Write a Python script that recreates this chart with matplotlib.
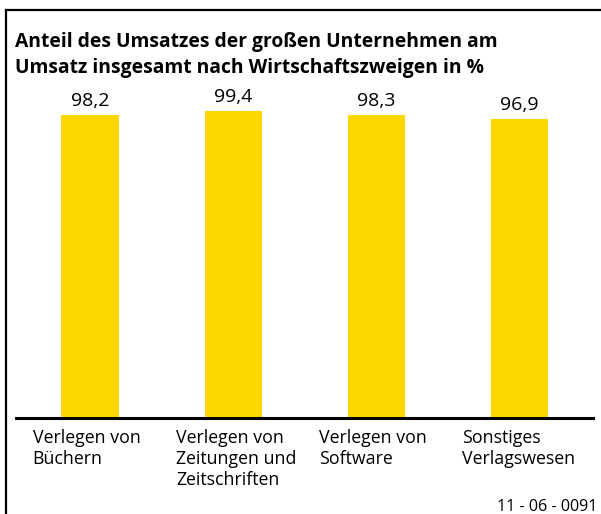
import matplotlib
matplotlib.use("Agg")
import matplotlib.pyplot as plt
from matplotlib.lines import Line2D

categories = ["Verlegen von\nBüchern", "Verlegen von\nZeitungen und\nZeitschriften",
              "Verlegen von\nSoftware", "Sonstiges\nVerlagswesen"]
values = [98.2, 99.4, 98.3, 96.9]
value_labels = ["98,2", "99,4", "98,3", "96,9"]

plt.rcParams["font.family"] = ["Open Sans", "DejaVu Sans"]

fig = plt.figure(figsize=(6.01, 5.14), dpi=100)
W, H = 601, 514

# frame: only left and top edges are visible in the crop
fig.lines.append(Line2D([6 / W, 6 / W], [0, 1 - 10 / H], transform=fig.transFigure,
                        color="black", linewidth=1.6))
fig.lines.append(Line2D([6 / W, 1], [1 - 10 / H, 1 - 10 / H], transform=fig.transFigure,
                        color="black", linewidth=1.6))

fig.text(15 / W, 1 - 73 / H, "Anteil des Umsatzes der großen Unternehmen am\n"
         "Umsatz insgesamt nach Wirtschaftszweigen in %",
         fontsize=13.9, fontweight="bold", va="baseline", ha="left",
         linespacing=1.43, multialignment="left")

ax = fig.add_axes([16 / W, (514 - 418) / H, (593 - 16) / W, 318 / H])
x = range(len(values))
ax.bar(x, values, width=0.4, color="#FFD700")
for i, (v, lab) in enumerate(zip(values, value_labels)):
    ax.text(i, v + 2.9, lab, ha="center", va="baseline", fontsize=14)

ax.set_xlim(-0.517, 3.514)
ax.set_ylim(0, 103)
for s in ["top", "right", "left"]:
    ax.spines[s].set_visible(False)
ax.spines["bottom"].set_linewidth(2.2)
ax.set_yticks([])
ax.set_xticks([])
for i, c in enumerate(categories):
    ax.text(i - 0.4, -3.6, c, ha="left", va="top", fontsize=12.8, linespacing=1.22)

fig.text(597 / W, 1 - 511 / H, "11 - 06 - 0091", ha="right", va="baseline", fontsize=11.6)

fig.savefig("out.png", dpi=100)
